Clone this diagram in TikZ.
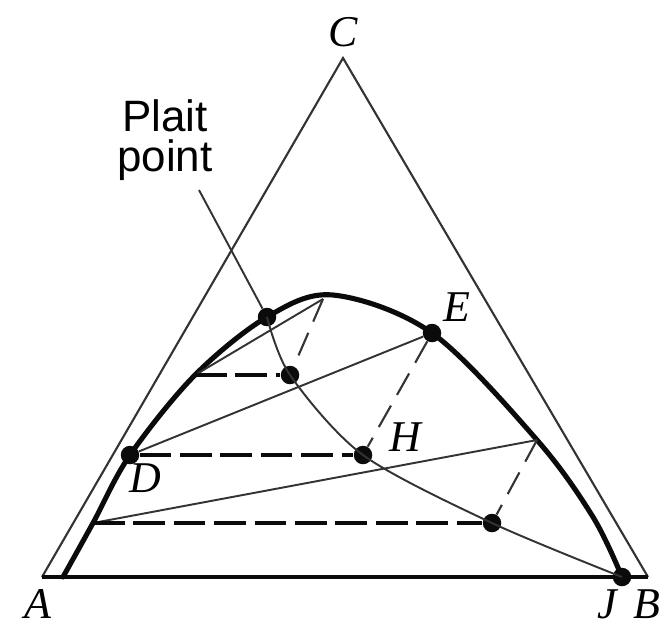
\documentclass[tikz,border=0pt]{standalone}
\usepackage{fontspec}
\setmainfont{Liberation Serif}
\newfontfamily\plaitfont{Liberation Sans}
\usetikzlibrary{positioning}
\definecolor{cInk}{HTML}{0B0B0B}
\definecolor{cEdge}{HTML}{333333}

\begin{document}
\begin{tikzpicture}[
  x=0.02cm, y=-0.02cm,
  edge/.style={cEdge, line width=1.2pt},
  base/.style={cInk, line width=2.3pt},
  binodal/.style={cInk, line width=2.9pt, line join=round, line cap=round},
  tie/.style={cEdge, line width=1.1pt},
  hdash/.style={cInk, line width=2pt, dash pattern=on 18pt off 5pt},
  sdash/.style={cEdge, line width=1.2pt, dash pattern=on 14pt off 7pt},
  dot/.style={circle, fill=cInk, inner sep=0pt, minimum size=0.37cm},
  vlab/.style={font=\fontsize{25}{28}\selectfont\itshape, inner sep=0pt},
  ptitle/.style={font=\fontsize{25}{22.8}\selectfont\plaitfont, align=center,
    inner sep=0pt},
]
\useasboundingbox (0,0) rectangle (665,627);

% ============================================================ triangle
\coordinate (A) at (42,577);
\coordinate (B) at (648,577);
\coordinate (C) at (343,58);
\draw[edge] (A) -- (C) -- (B);
\draw[base] (A) -- (B);

% ================================================ points on the curves
\node[dot] (plait) at (267,317) {};
\node[dot] (p1) at (290,375) {};
\node[dot] (D) at (130,455) {};
\node[dot] (H) at (363,455) {};
\node[dot] (p2) at (492,523) {};
\node[dot] (E) at (432,333) {};
\node[dot] (J) at (622,577) {};
% tie-line ends on the binodal
\coordinate (t1L) at (195,375);
\coordinate (t1R) at (323,299);
\coordinate (t3L) at (93,523);
\coordinate (t3R) at (537,440);
\coordinate (lead) at (199,190);

% binodal curve
\draw[binodal] plot[smooth, tension=0.55] coordinates {(63,577) (t3L) (D.center)
  (t1L) (plait.center) (333,295) (E.center) (t3R) (593,517) (J.center)};

% tie lines and conjugate line
\draw[tie] (t1L) -- (t1R);
\draw[tie] (D) -- (E);
\draw[tie] (t3L) -- (t3R);
\draw[tie] plot[smooth] coordinates {(plait.center) (p1.center) (H.center)
  (p2.center) (J.center)};
\draw[tie] (lead) -- (plait);

% construction lines
\draw[hdash] (t1L) -- (p1);
\draw[hdash] (D) -- (H);
\draw[hdash] (t3L) -- (p2);
\draw[sdash] (t1R) -- (p1);
\draw[sdash] (E) -- (H);
\draw[sdash] (t3R) -- (p2);

% ============================================================== labels
\node[vlab] (lC) at (343,32) {C};
\node[vlab] (lA) at (38,604) {A};
\node[vlab] (lJ) at (607,604) {J};
\node[vlab] (lB) at (647,604) {B};
\node[vlab] (lD) at (145,478) {D};
\node[vlab] (lE) at (457,307) {E};
\node[vlab] (lH) at (405,437) {H};
\node[ptitle] (lplait) at (165,140) {Plait\\point};
\end{tikzpicture}
\end{document}
